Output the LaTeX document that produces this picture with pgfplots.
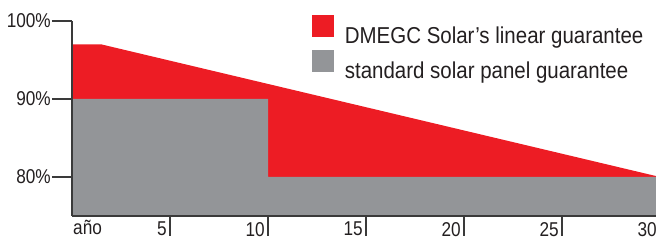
\documentclass[border=0pt]{standalone}
\usepackage{fontspec}
\setmainfont{Liberation Sans}
\newfontfamily\condfont{Liberation Sans}[FakeStretch=0.86]
\newfontfamily\legfont{Liberation Sans}[FakeStretch=0.89]
\usepackage{pgfplots}
\pgfplotsset{compat=1.18}
\definecolor{dred}{HTML}{ED1C24}
\definecolor{dgray}{HTML}{939598}
\definecolor{txt}{HTML}{231F20}
\definecolor{axl}{HTML}{3A3A3A}
\begin{document}
\begin{tikzpicture}[x=1pt,y=1pt]
\useasboundingbox (0,0) rectangle (656,240);
\begin{axis}[
  at={(72pt,24pt)}, anchor=south west,
  scale only axis, width=588pt, height=195pt,
  xmin=0, xmax=30, ymin=75, ymax=100,
  axis x line=bottom, axis y line=left,
  axis line style={-, draw=axl, line width=1.2pt},
  axis on top,
  xtick={5,10,15,20,25,30}, xticklabels={5,10,15,20,25,30},
  ytick={80,90,100}, yticklabels={80\%,90\%,100\%},
  tick align=outside, major tick length=20pt,
  tick style={draw=axl, line width=1.2pt},
  ticklabel style={font=\condfont\fontsize{20}{20}\selectfont, text=txt},
  xticklabel style={anchor=north east, inner sep=0pt, xshift=-3pt, yshift=14pt},
  yticklabel style={anchor=east, inner sep=0pt, xshift=-1pt},
  legend style={at={(rel axis cs:0.408,1.031)}, anchor=north west, draw=none, fill=none,
    inner sep=0pt, outer sep=0pt, font=\legfont\fontsize{23}{23}\selectfont, text=txt,
    row sep=5pt, column sep=11pt, nodes={inner sep=0pt}},
  legend cell align=left,
  legend image code/.code={\fill[#1] (0pt,-1pt) rectangle (22pt,21pt);},
  clip=false,
]
\addplot[fill=dred, draw=none] coordinates {(0,97) (1.5,97) (30,80)} \closedcycle;
\addlegendentry{DMEGC Solar’s linear guarantee}
\addplot[fill=dgray, draw=none] coordinates {(0,90) (10,90) (10,80) (30,80)} \closedcycle;
\addlegendentry{standard solar panel guarantee}
\node[anchor=north west, inner sep=0pt, font=\condfont\fontsize{20}{20}\selectfont, text=txt] at (rel axis cs:0,0) [yshift=-4pt, xshift=1pt] {año};
\end{axis}
\end{tikzpicture}
\end{document}
